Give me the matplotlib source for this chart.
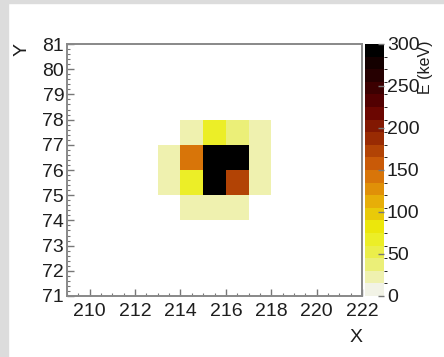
import numpy as np
import matplotlib
matplotlib.use("Agg")
import matplotlib.pyplot as plt
from matplotlib.colors import LinearSegmentedColormap, BoundaryNorm
from matplotlib.patches import Rectangle

# ---- data ----
x_centers = [213, 214, 215, 216, 217]
y_centers = [74, 75, 76, 77]
# energy (keV), rows follow y_centers, columns follow x_centers; 0 = empty
energy = [
    [0,   20,  20,  20,  0],
    [20,  62,  300, 175, 20],
    [20,  145, 300, 300, 20],
    [0,   20,  65,  32,  20],
]
x_ticks = [210, 212, 214, 216, 218, 220, 222]
y_ticks = [71, 72, 73, 74, 75, 76, 77, 78, 79, 80, 81]
cbar_ticks = [0, 50, 100, 150, 200, 250, 300]

plt.rcParams['font.family'] = ['Liberation Sans', 'DejaVu Sans']

# ROOT dark body radiator palette (reversed: low = pale)
stops_rgb = [(242, 243, 230), (234, 238, 95), (237, 238, 11), (230, 168, 8),
             (212, 101, 9), (156, 45, 3), (99, 0, 1), (45, 0, 1), (0, 0, 0)]
cmap = LinearSegmentedColormap.from_list(
    "dbr", [tuple(c / 255 for c in rgb) for rgb in stops_rgb], N=256)
levels = np.linspace(0, 300, 21)
norm = BoundaryNorm(levels, cmap.N, clip=True)

fig = plt.figure(figsize=(4.44, 3.57), dpi=100)
W, H = 444, 357
# screenshot border
fig.patches.append(Rectangle((0, 0), 8 / W, 1, transform=fig.transFigure,
                             color="#dcdcdc", zorder=-1))
fig.patches.append(Rectangle((0, 1 - 3 / H), 1, 3 / H, transform=fig.transFigure,
                             color="#dcdcdc", zorder=-1))

ax = fig.add_axes([67 / W, 1 - 296 / H, (362 - 67) / W, (296 - 44) / H])
xe = np.array([c for c in x_centers] + [x_centers[-1] + 1])
ye = np.array([c for c in y_centers] + [y_centers[-1] + 1])
Z = np.ma.masked_equal(np.array(energy, dtype=float), 0)
mesh = ax.pcolormesh(xe, ye, Z, cmap=cmap, norm=norm)
ax.set_xlim(209, 222)
ax.set_ylim(71, 81)

tc = "#1e1e1e"
fs = 14
ax.set_xticks(x_ticks)
ax.set_yticks(y_ticks)
ax.set_xticks(np.arange(209, 222.01, 0.5), minor=True)
ax.set_yticks(np.arange(71, 81.01, 0.2), minor=True)
ax.tick_params(axis="both", which="major", direction="in", length=5, width=1,
               color="#777777", labelsize=fs, labelcolor=tc, pad=2)
ax.tick_params(axis="both", which="minor", direction="in", length=2.5, width=0.8,
               color="#777777")
ax.tick_params(axis="x", pad=5)
for s in ax.spines.values():
    s.set_color("#888888")
    s.set_linewidth(1.4)

fig.text(22 / W, 1 - 50 / H, "Y", rotation=90, ha="center", va="center",
         fontsize=fs, color=tc)
fig.text(356 / W, 1 - 338 / H, "X", ha="center", va="center",
         fontsize=fs, color=tc)

cax = fig.add_axes([365 / W, 1 - 296 / H, (384 - 365) / W, (296 - 44) / H])
cb = fig.colorbar(mesh, cax=cax, ticks=cbar_ticks)
cb.outline.set_visible(False)
cax.tick_params(direction="in", length=4, width=1, color="#777777",
                labelsize=fs, labelcolor=tc, pad=2)
fig.text(425 / W, 1 - 40 / H, "E (keV)", rotation=90, ha="center", va="top",
         fontsize=11.5, color=tc)

fig.savefig("out.png", dpi=100)
